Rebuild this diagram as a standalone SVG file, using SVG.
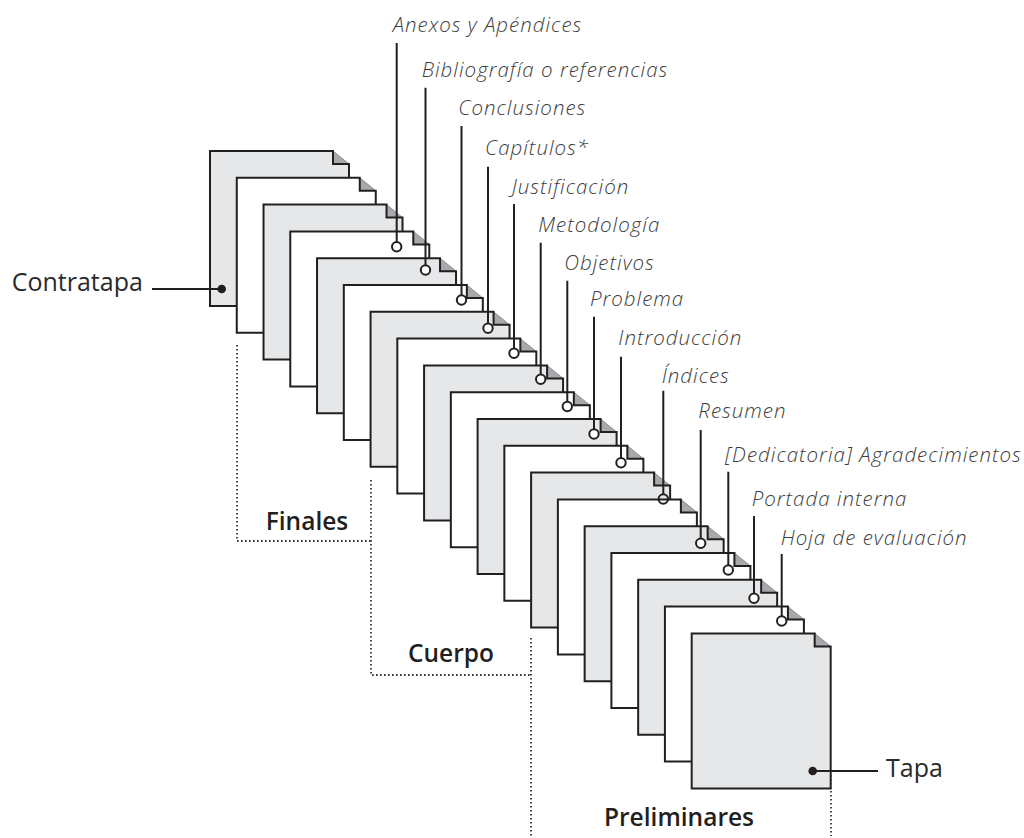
<svg xmlns="http://www.w3.org/2000/svg" width="1024" height="838" viewBox="0 0 1024 838">
<style>
.sheet{stroke:#231f20;stroke-width:2;stroke-linejoin:miter}
.gray{fill:#e6e7e8}
.white{fill:#ffffff}
.fold{fill:#a7a9ac;stroke:#8a8c8e;stroke-width:1}
.lbl{font-family:"Open Sans","Noto Sans",sans-serif;font-style:italic;font-weight:300;font-size:20.5px;letter-spacing:1px;fill:#3d3d3d}
.big{font-family:"Open Sans","Noto Sans",sans-serif;font-size:25px;fill:#2a2a2a}
.sec{font-family:"Open Sans","Noto Sans",sans-serif;font-size:24.5px;font-weight:600;fill:#231f20}
.ln{stroke:#231f20;stroke-width:2;fill:none}
.ring{stroke:#231f20;stroke-width:2;fill:#ffffff}
.hollow{stroke:#231f20;stroke-width:2;fill:none}
.dot{fill:#231f20}
.dotted{stroke:#333;stroke-width:1.8;fill:none;stroke-dasharray:1.6 2.4}
</style>
<defs>
<g id="pg"><path class="fold" d="M123,0L139,13H123Z"/><path class="sheet" d="M0,0H123V13H139V155H0Z"/></g>
</defs>
<rect width="1024" height="838" fill="#ffffff"/>
<g id="pages">
<g id="page-contratapa" class="gray" transform="translate(210,151)"><use href="#pg"/></g>
<g id="page-1" class="white" transform="translate(236.76,177.8)"><use href="#pg"/></g>
<g id="page-2" class="gray" transform="translate(263.52,204.6)"><use href="#pg"/></g>
<g id="page-3" class="white" transform="translate(290.28,231.4)"><use href="#pg"/></g>
<g id="page-4" class="gray" transform="translate(317.04,258.2)"><use href="#pg"/></g>
<g id="page-5" class="white" transform="translate(343.8,285)"><use href="#pg"/></g>
<g id="page-6" class="gray" transform="translate(370.56,311.8)"><use href="#pg"/></g>
<g id="page-7" class="white" transform="translate(397.32,338.6)"><use href="#pg"/></g>
<g id="page-8" class="gray" transform="translate(424.08,365.4)"><use href="#pg"/></g>
<g id="page-9" class="white" transform="translate(450.84,392.2)"><use href="#pg"/></g>
<g id="page-10" class="gray" transform="translate(477.6,419)"><use href="#pg"/></g>
<g id="page-11" class="white" transform="translate(504.36,445.8)"><use href="#pg"/></g>
<g id="page-12" class="gray" transform="translate(531.12,472.6)"><use href="#pg"/></g>
<g id="page-13" class="white" transform="translate(557.88,499.4)"><use href="#pg"/></g>
<g id="page-14" class="gray" transform="translate(584.64,526.2)"><use href="#pg"/></g>
<g id="page-15" class="white" transform="translate(611.4,553)"><use href="#pg"/></g>
<g id="page-16" class="gray" transform="translate(638.16,579.8)"><use href="#pg"/></g>
<g id="page-17" class="white" transform="translate(664.92,606.6)"><use href="#pg"/></g>
<g id="page-tapa" class="gray" transform="translate(691.68,633.4)"><use href="#pg"/></g>
</g>
<g id="brackets">
<path class="dotted" d="M237,345V541H371"/>
<path class="dotted" d="M371,480V675H531"/>
<path class="dotted" d="M531,638V836"/>
<path class="dotted" d="M831,775V836"/>
</g>
<g id="connectors">
<path class="ln" d="M396.7,43V242 M425.5,87.7V265.3 M461.5,126V295.3 M488,166.7V323.6 M514,204V348.6 M540.7,242.7V374.6 M567.3,280.7V401.8 M594,316.7V429.3 M621,356.7V458 M663.3,390.7V494.3 M700.7,430V538.6 M728.3,471.7V565.3 M754,516V593.6 M781.7,554V616.3 M152,289H221.7 M812.7,771H878"/>
<circle class="ring" cx="396.7" cy="246.7" r="4.7"/>
<circle class="ring" cx="425.5" cy="270" r="4.7"/>
<circle class="ring" cx="461.5" cy="300" r="4.7"/>
<circle class="ring" cx="488" cy="328.3" r="4.7"/>
<circle class="ring" cx="514" cy="353.3" r="4.7"/>
<circle class="ring" cx="540.7" cy="379.3" r="4.7"/>
<circle class="ring" cx="567.3" cy="406.5" r="4.7"/>
<circle class="ring" cx="594" cy="434" r="4.7"/>
<circle class="ring" cx="621" cy="462.7" r="4.7"/>
<circle class="hollow" cx="663.3" cy="499" r="4.7"/>
<circle class="ring" cx="700.7" cy="543.3" r="4.7"/>
<circle class="ring" cx="728.3" cy="570" r="4.7"/>
<circle class="ring" cx="754" cy="598.3" r="4.7"/>
<circle class="ring" cx="781.7" cy="621" r="4.7"/>
<circle class="dot" cx="221.7" cy="289" r="4.3"/>
<circle class="dot" cx="812.7" cy="771" r="4.3"/>
</g>
<g id="label-anexos"><text class="lbl" x="392.7" y="32">Anexos y Apéndices</text></g>
<g id="label-bibliografia"><text class="lbl" x="421.7" y="76.7">Bibliografía o referencias</text></g>
<g id="label-conclusiones"><text class="lbl" x="458.3" y="115">Conclusiones</text></g>
<g id="label-capitulos"><text class="lbl" x="485" y="155">Capítulos*</text></g>
<g id="label-justificacion"><text class="lbl" x="511.7" y="194">Justificación</text></g>
<g id="label-metodologia"><text class="lbl" x="538.3" y="231.7">Metodología</text></g>
<g id="label-objetivos"><text class="lbl" x="564.3" y="270">Objetivos</text></g>
<g id="label-problema"><text class="lbl" x="590" y="306">Problema</text></g>
<g id="label-introduccion"><text class="lbl" x="618.3" y="345">Introducción</text></g>
<g id="label-indices"><text class="lbl" x="661.7" y="382.7">Índices</text></g>
<g id="label-resumen"><text class="lbl" x="698.3" y="418.3">Resumen</text></g>
<g id="label-dedicatoria"><text class="lbl" x="725" y="461.7">[Dedicatoria] Agradecimientos</text></g>
<g id="label-portada"><text class="lbl" x="751.7" y="506">Portada interna</text></g>
<g id="label-hoja"><text class="lbl" x="780.7" y="545">Hoja de evaluación</text></g>
<g id="label-contratapa"><text class="big" x="11.7" y="291">Contratapa</text></g>
<g id="label-tapa"><text class="big" x="886" y="777">Tapa</text></g>
<g id="label-finales"><text class="sec" x="307" y="530" text-anchor="middle">Finales</text></g>
<g id="label-cuerpo"><text class="sec" x="451" y="662" text-anchor="middle">Cuerpo</text></g>
<g id="label-preliminares"><text class="sec" x="679" y="826" text-anchor="middle">Preliminares</text></g>
</svg>
